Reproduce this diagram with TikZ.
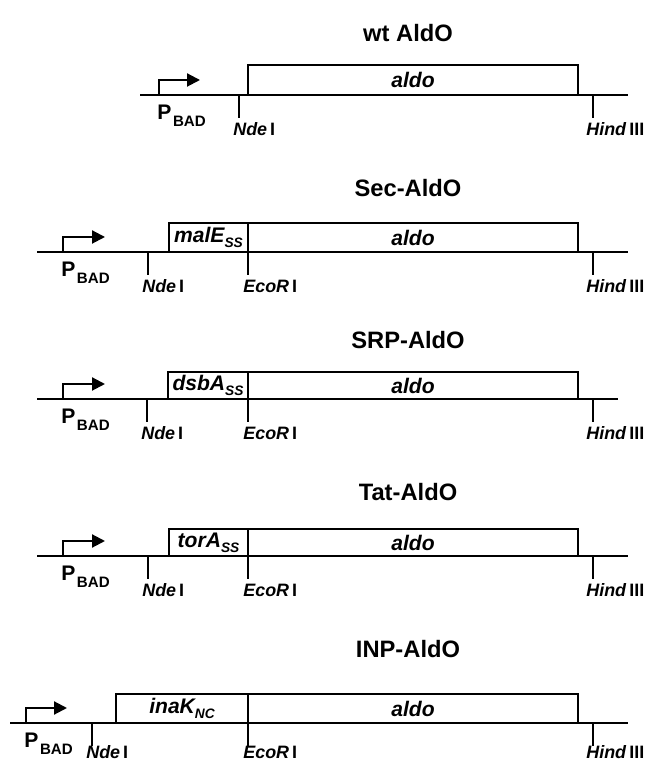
\documentclass[tikz,border=0pt]{standalone}
\usepackage{fontspec}
\setmainfont{Liberation Sans}
\usepackage{tikz}
\usetikzlibrary{arrows.meta}
\newcommand{\Pbad}{{\fontsize{12}{13}\selectfont P}\kern0.9pt\raisebox{-4pt}{\fontsize{8.6}{9}\selectfont BAD}}
\newcommand{\subs}[1]{\raisebox{-3pt}{\fontsize{7.8}{8}\selectfont #1}}

\begin{document}
\begin{tikzpicture}[x=1cm,y=1cm,
  dna/.style={line width=1.5pt},
  gene/.style={draw,line width=1.15pt},
  cut/.style={line width=1.3pt},
  prom/.style={line width=1.2pt,-{Triangle[length=0.26cm,width=0.26cm]}},
  title/.style={font=\fontsize{13.5}{15}\selectfont\bfseries,inner sep=0pt},
  genelab/.style={font=\fontsize{12}{13}\selectfont\bfseries\itshape,inner sep=0pt},
  sitelab/.style={anchor=base west,inner sep=0pt,font=\fontsize{10.2}{11}\selectfont\bfseries},
  plab/.style={anchor=base west,inner sep=0pt,font=\bfseries}]
\path[use as bounding box] (0,0) rectangle (12.92,15.28);
% wt AldO
\node[title] (t1) at (8.16,14.62) {wt AldO};
\draw[gene] (4.96,13.38) rectangle (11.56,13.98);
\node[genelab] (aldo1) at (8.26,13.68) {aldo};
\draw[dna] (2.80,13.38) -- (12.56,13.38);
\draw[prom] (3.18,13.38) -- (3.18,13.68) -- (4.00,13.68);
\draw[cut] (4.78,13.38) -- (4.78,12.92);
\draw[cut] (11.86,13.38) -- (11.86,12.92);
\node[plab] (p1) at (3.14,12.89) {\Pbad};
\node[sitelab] (nde1) at (4.66,12.56) {\textit{Nde}\,I};
\node[sitelab] (hind1) at (11.72,12.56) {\textit{Hind}\,III};
% Sec-AldO
\node[title] (t2) at (8.16,11.52) {Sec-AldO};
\draw[gene] (3.38,10.24) rectangle (4.96,10.82);
\draw[gene] (4.96,10.24) rectangle (11.56,10.82);
\node[genelab] (male) at (4.17,10.53) {malE\subs{SS}};
\node[genelab] (aldo2) at (8.26,10.53) {aldo};
\draw[dna] (0.74,10.24) -- (12.56,10.24);
\draw[prom] (1.26,10.24) -- (1.26,10.54) -- (2.10,10.54);
\draw[cut] (2.96,10.24) -- (2.96,9.78);
\draw[cut] (4.96,10.82) -- (4.96,9.78);
\draw[cut] (11.86,10.24) -- (11.86,9.78);
\node[plab] (p2) at (1.22,9.75) {\Pbad};
\node[sitelab] (nde2) at (2.84,9.42) {\textit{Nde}\,I};
\node[sitelab] (eco2) at (4.86,9.42) {\textit{EcoR}\,I};
\node[sitelab] (hind2) at (11.72,9.42) {\textit{Hind}\,III};
% SRP-AldO
\node[title] (t3) at (8.16,8.48) {SRP-AldO};
\draw[gene] (3.36,7.30) rectangle (4.96,7.84);
\draw[gene] (4.96,7.30) rectangle (11.56,7.84);
\node[genelab] (dsba) at (4.16,7.57) {dsbA\subs{SS}};
\node[genelab] (aldo3) at (8.26,7.57) {aldo};
\draw[dna] (0.74,7.30) -- (12.36,7.30);
\draw[prom] (1.26,7.30) -- (1.26,7.60) -- (2.10,7.60);
\draw[cut] (2.94,7.30) -- (2.94,6.84);
\draw[cut] (4.96,7.84) -- (4.96,6.84);
\draw[cut] (11.86,7.30) -- (11.86,6.84);
\node[plab] (p3) at (1.22,6.81) {\Pbad};
\node[sitelab] (nde3) at (2.82,6.48) {\textit{Nde}\,I};
\node[sitelab] (eco3) at (4.86,6.48) {\textit{EcoR}\,I};
\node[sitelab] (hind3) at (11.72,6.48) {\textit{Hind}\,III};
% Tat-AldO
\node[title] (t4) at (8.16,5.44) {Tat-AldO};
\draw[gene] (3.38,4.16) rectangle (4.96,4.70);
\draw[gene] (4.96,4.16) rectangle (11.56,4.70);
\node[genelab] (tora) at (4.17,4.43) {torA\subs{SS}};
\node[genelab] (aldo4) at (8.26,4.43) {aldo};
\draw[dna] (0.74,4.16) -- (12.56,4.16);
\draw[prom] (1.26,4.16) -- (1.26,4.46) -- (2.10,4.46);
\draw[cut] (2.96,4.16) -- (2.96,3.70);
\draw[cut] (4.96,4.70) -- (4.96,3.70);
\draw[cut] (11.86,4.16) -- (11.86,3.70);
\node[plab] (p4) at (1.22,3.67) {\Pbad};
\node[sitelab] (nde4) at (2.84,3.34) {\textit{Nde}\,I};
\node[sitelab] (eco4) at (4.86,3.34) {\textit{EcoR}\,I};
\node[sitelab] (hind4) at (11.72,3.34) {\textit{Hind}\,III};
% INP-AldO
\node[title] (t5) at (8.16,2.30) {INP-AldO};
\draw[gene] (2.32,0.82) rectangle (4.96,1.40);
\draw[gene] (4.96,0.82) rectangle (11.56,1.40);
\node[genelab] (inak) at (3.64,1.11) {inaK\subs{NC}};
\node[genelab] (aldo5) at (8.26,1.11) {aldo};
\draw[dna] (0.20,0.82) -- (12.56,0.82);
\draw[prom] (0.52,0.82) -- (0.52,1.12) -- (1.34,1.12);
\draw[cut] (1.84,0.82) -- (1.84,0.36);
\draw[cut] (4.96,1.40) -- (4.96,0.36);
\draw[cut] (11.86,0.82) -- (11.86,0.36);
\node[plab] (p5) at (0.48,0.33) {\Pbad};
\node[sitelab] (nde5) at (1.72,0.10) {\textit{Nde}\,I};
\node[sitelab] (eco5) at (4.86,0.10) {\textit{EcoR}\,I};
\node[sitelab] (hind5) at (11.72,0.10) {\textit{Hind}\,III};
\end{tikzpicture}
\end{document}
